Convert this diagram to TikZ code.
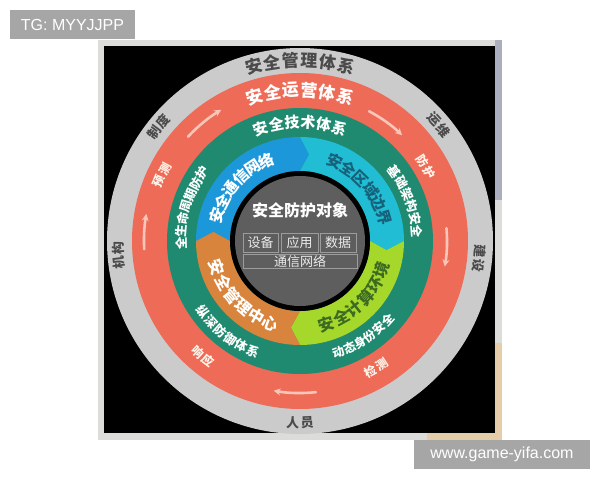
\documentclass[tikz,border=0pt]{standalone}
\usepackage{fontspec}
\setmainfont{Liberation Sans}
\newfontfamily\cjk{Noto Sans CJK SC}
\usetikzlibrary{arrows.meta}
\definecolor{framegray}{HTML}{DCDCDA}
\definecolor{framebeige}{HTML}{E6CDAA}
\definecolor{frameblue}{HTML}{ABAEBC}
\definecolor{ringgray}{HTML}{CBCBCB}
\definecolor{ringorange}{HTML}{EE6B58}
\definecolor{ringgreen}{HTML}{1F8A6F}
\definecolor{secblue}{HTML}{1C98DA}
\definecolor{seccyan}{HTML}{20BDD4}
\definecolor{seclime}{HTML}{A6D82B}
\definecolor{secbrown}{HTML}{D8843C}
\definecolor{coregray}{HTML}{5E5E5E}
\definecolor{darktext}{HTML}{4B4B4B}
\definecolor{tealtext}{HTML}{16627A}
\definecolor{limetext}{HTML}{3C6A22}
\definecolor{arrowpink}{HTML}{F7C6B9}
\definecolor{boxline}{HTML}{9C9C9C}
\definecolor{wmgray}{HTML}{A6A6A6}
% characters along an arc, reading clockwise, tops outward
\newcommand\toparc[7]{%
  \foreach \ch [count=\i] in {#7}{%
    \pgfmathsetmacro\ang{#3+((#5-1)/2-(\i-1))*#4}%
    \node[#6,rotate=\ang-90] (#1-\i) at (\ang:#2) {\ch};}}
% characters along an arc, reading counterclockwise, tops inward
\newcommand\botarc[7]{%
  \foreach \ch [count=\i] in {#7}{%
    \pgfmathsetmacro\ang{#3-((#5-1)/2-(\i-1))*#4}%
    \node[#6,rotate=\ang+90] (#1-\i) at (\ang:#2) {\ch};}}
% inner ring sector with chevron ends (clockwise from #2 to #3)
\newcommand\sector[3]{%
  \fill[#1] (#2:104) arc[start angle=#2, end angle=#3, radius=104]
    -- ({#3-6}:87) -- (#3:70) arc[start angle=#3, end angle=#2, radius=70]
    -- ({#2-6}:87) -- cycle;}
\begin{document}
\begin{tikzpicture}[x=1pt,y=1pt,
  ch/.style={inner sep=-1.5pt, font=\cjk\bfseries\fontsize{#1}{#1}\selectfont},
  ch/.default=13,
  wm/.style={fill=wmgray, text=white, inner sep=0pt, font=\fontsize{16}{16}\selectfont},
  cyclearrow/.style={draw=arrowpink, line width=2.6pt, line cap=round,
    -{Stealth[length=7pt,width=7pt]}},
  objbox/.style={draw=boxline, line width=0.8pt, text=white!92!black,
    inner sep=0pt, font=\cjk\fontsize{13}{13}\selectfont}
]
\useasboundingbox (0,0) rectangle (600,480);
% photo frame
\fill[framegray] (98,40) rectangle (502,440);
\fill[frameblue] (495,280) rectangle (502,440);
\fill[framebeige] (427,40) rectangle (502,137);
\fill[black] (104,47) rectangle (495,434);

\begin{scope}[shift={(300,239)}]
  \fill[ringgray] (0,0) circle (193);
  \fill[ringorange] (0,0) circle (168);
  \fill[ringgreen] (0,0) circle (133);
  \sector{secblue}{180}{90}
  \sector{seccyan}{90}{0}
  \sector{seclime}{0}{-90}
  \sector{secbrown}{-90}{-180}
  \fill[black] (0,0) circle (70);
  \fill[coregray] (0,0) circle (65);

  % cycle arrows on the orange ring
  \coordinate (a1s) at (137:153); \coordinate (a2s) at (183:156);
  \coordinate (a3s) at (62:147);  \coordinate (a4s) at (5:147);
  \coordinate (a5s) at (-84:152);
  \draw[cyclearrow] (a1s) arc[start angle=137, end angle=121, radius=153];
  \draw[cyclearrow] (a2s) arc[start angle=183, end angle=170, radius=156];
  \draw[cyclearrow] (a3s) arc[start angle=62, end angle=46, radius=147];
  \draw[cyclearrow] (a4s) arc[start angle=5, end angle=-10, radius=147];
  \draw[cyclearrow] (a5s) arc[start angle=-84, end angle=-100, radius=152];

  % gray ring
  \toparc{gt}{181}{90}{5.9}{6}{ch=17,text=darktext}{安,全,管,理,体,系}
  \toparc{gz}{182}{141}{4.6}{2}{ch=13,text=darktext}{制,度}
  \toparc{gy}{181}{40}{4.6}{2}{ch=13,text=darktext}{运,维}
  \toparc{gj}{182}{184.5}{4.6}{2}{ch=13,text=darktext}{机,构}
  \toparc{gs}{180}{-5.5}{4.6}{2}{ch=13,text=darktext}{建,设}
  \botarc{gr}{182}{270}{4.6}{2}{ch=13,text=darktext}{人,员}

  % orange ring
  \toparc{ot}{151}{90}{7.0}{6}{ch=17,text=white}{安,全,运,营,体,系}
  \toparc{oy}{153}{154.5}{5}{2}{ch=12,text=white!92!orange}{预,测}
  \toparc{of}{146}{30.5}{5}{2}{ch=12,text=white!92!orange}{防,护}
  \botarc{ox}{151}{230}{5}{2}{ch=12,text=white!92!orange}{响,应}
  \botarc{oj}{148}{301}{5}{2}{ch=12,text=white!92!orange}{检,测}

  % green ring
  \toparc{nt}{119}{90}{7.7}{6}{ch=15,text=white}{安,全,技,术,体,系}
  \toparc{nq}{119}{163}{6}{7}{ch=12.5,text=white}{全,生,命,周,期,防,护}
  \toparc{nj}{117}{20.5}{6.4}{6}{ch=12.5,text=white}{基,础,架,构,安,全}
  \botarc{nz}{120}{231.5}{6.2}{6}{ch=12.5,text=white}{纵,深,防,御,体,系}
  \botarc{nd}{118}{303.5}{5.8}{6}{ch=12,text=white}{动,态,身,份,安,全}

  % inner ring
  \toparc{bt}{87}{138}{10}{6}{ch=15.5,text=white}{安,全,通,信,网,络}
  \toparc{ct}{87}{41}{10}{6}{ch=15.5,text=tealtext}{安,全,区,域,边,界}
  \botarc{lt}{87}{314}{10.5}{6}{ch=16,text=limetext}{安,全,计,算,环,境}
  \botarc{rt}{87}{224}{10.5}{6}{ch=16,text=white}{安,全,管,理,中,心}

  % protected objects
  \node[ch=16,text=white] (obj) at (0,31) {安全防护对象};
  \node[objbox, minimum width=35pt, minimum height=19pt] (dev) at (-39.5,-1.5) {设备};
  \node[objbox, minimum width=37pt, minimum height=19pt] (app) at (-0.5,-1.5) {应用};
  \node[objbox, minimum width=36pt, minimum height=19pt] (dat) at (38,-1.5) {数据};
  \node[objbox, minimum width=114pt, minimum height=14pt] (net) at (0,-20) {通信网络};
\end{scope}

% watermarks
\node[wm, minimum width=125pt, minimum height=29pt] (tg) at (72.5,455.5) {TG: MYYJJPP};
\node[wm, minimum width=176pt, minimum height=29pt] (www) at (502,25.5) {www.game-yifa.com};
\end{tikzpicture}
\end{document}
